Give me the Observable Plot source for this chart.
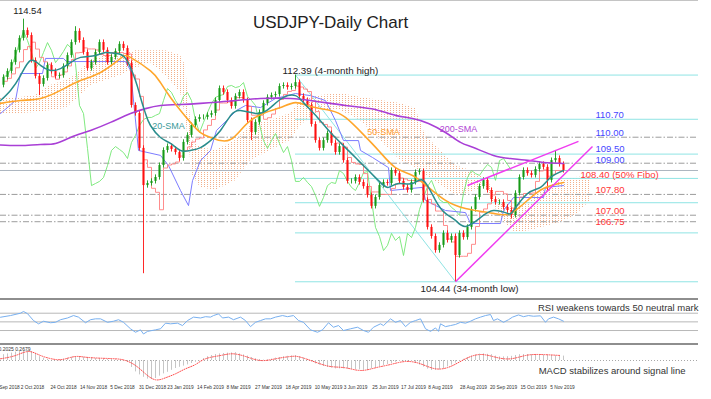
<!DOCTYPE html>
<html><head><meta charset="utf-8">
<script src="https://cdn.jsdelivr.net/npm/d3@7"></script>
<script src="https://cdn.jsdelivr.net/npm/@observablehq/plot@0.6"></script>
<style>
body{margin:0;background:#fff;font-family:Arial,"Liberation Sans",sans-serif;}
#wrap{position:relative;width:711px;height:399px;overflow:hidden;background:#fff}
#wrap > div{position:absolute;left:0}
.sep{height:2px;width:698px;background:#8e8e8e}
</style></head><body>
<div id="wrap">
  <div id="main" style="top:0"></div>
  <div style="top:0;height:1px;width:698px;background:#c4c4c4"></div>
  <div class="sep" style="top:298px"></div>
  <div id="rsi" style="top:300px"></div>
  <div class="sep" style="top:343px"></div>
  <div id="macd" style="top:345px"></div>
</div>
<script>
// ---------------- DATA ----------------
// daily USDJPY candles (one candle ~ every two sessions), closes
const closes = [112.30,112.53,112.87,113.34,113.80,114.10,113.91,112.95,112.34,112.03,
112.26,112.76,112.53,112.34,112.37,112.72,113.14,113.64,114.07,113.72,
113.26,112.64,112.87,113.26,113.64,113.34,112.87,113.07,113.30,113.57,
113.41,112.83,111.22,110.91,109.57,108.14,108.22,108.30,108.45,108.91,
109.49,109.64,109.53,109.41,109.18,109.80,110.07,110.45,110.68,110.76,
110.76,110.84,110.91,111.41,111.87,111.72,111.41,111.18,111.57,111.72,
111.41,110.64,110.18,110.57,110.95,111.30,111.53,111.60,111.64,111.95,
111.99,111.91,111.95,112.10,111.57,111.41,111.22,110.49,109.87,109.57,
109.87,110.14,109.76,109.41,109.64,109.10,108.30,108.30,108.45,108.26,
108.10,107.76,107.34,107.68,108.14,108.26,108.22,108.72,108.60,108.30,
108.07,107.95,108.26,108.64,108.68,107.57,106.53,106.18,105.64,105.84,
106.30,106.03,106.18,105.45,106.30,106.14,106.53,107.22,107.68,108.10,
108.34,107.95,107.60,107.49,107.49,107.30,107.18,106.99,107.84,108.45,
108.72,108.60,108.53,108.76,108.95,108.84,108.34,109.10,109.18,108.95,
108.72];
const firstOpen = 112.00;
const wickSize = 0.1;
const spikeHighBar = [5, 18, 73, 138];
const spikeHighVal = [114.54, 114.25, 112.39, 109.49];
const spikeLowBar = [9, 35, 62, 113, 127, 136];
const spikeLowVal = [111.60, 104.75, 109.87, 104.44, 106.85, 107.95];

const sma20Bar = [-0.75,1.75,4.25,6.75,9.25,11.75,14.25,16.75,19.25,23,25.5,28,30.5,33,34.25,35.5,36.75,39.25,41.75,44.25,46.75,49.25,51.75,54.25,56.75,59.25,63.5,66.75,70,73,75,78.5,81.75,85.5,88.75,93.75,96.25,98.75,102.25,105,108,110.5,113,115.5,119.25,122.5,126,127.5,131,134.25,136.75,140];
const sma20Val = [111.41,111.80,112.37,112.95,112.76,112.57,112.64,112.87,113.07,113.14,113.26,113.22,113.03,112.18,111.53,110.91,110.45,109.99,109.76,109.49,109.49,109.60,109.87,110.26,110.83,111.03,110.91,111.14,111.53,111.60,111.33,110.76,110.18,109.60,109.10,108.33,108.07,108.22,108.22,108.33,107.57,107.07,106.80,106.57,106.91,107.18,107.07,107.18,107.83,108.07,108.45,108.72];

const sma50Bar = [-0.75,4.25,9.25,14.25,19.25,24.25,29.25,31.75,36.75,39.25,41.75,44.25,46.75,49.25,51.75,54.25,56.75,59.25,61.75,65.5,69.25,73,76.75,81.75,85.5,89.75,93.75,98,102.25,106.25,110.5,115.5,122.5,126.75,131,135,140];
const sma50Val = [111.30,111.41,111.49,111.80,112.18,112.49,113.03,113.07,112.55,112.10,111.53,111.03,110.57,110.18,109.99,109.87,109.91,110.26,110.64,110.95,111.14,111.33,111.18,111.03,110.76,110.14,109.49,108.83,108.53,108.07,107.57,107.26,107.07,107.07,107.57,108.03,108.26];

const sma200Bar = [-0.75,4.25,9.25,13,16.75,21.75,26.75,31.75,35.5,39.25,44.25,49.25,56.75,64.25,71.75,76.75,81.75,85.5,89.75,93.75,98,102.25,106.25,110.5,114.25,117.5,122.5,126.75,131,135,140];
const sma200Val = [109.70,109.68,109.72,109.76,109.99,110.26,110.57,110.91,111.10,111.22,111.26,111.30,111.39,111.49,111.49,111.41,111.30,111.22,111.14,111.03,110.84,110.72,110.53,110.18,109.80,109.60,109.30,109.18,109.11,109.03,108.99];

const kijunBar = [-0.75,3,4.25,9.75,10.5,15,15.75,30.5,31.75,33.75,39.25,41.25,44.25,46.25,47.25,49.25,51.75,53.25,55.75,58.25,60.5,64.25,68,73,76.75,80.5,83,85,88.75,89.25,92.25,96.25,96.75,104.75,105.5,110.5,115.5,116.75,124.25,125,127.5,135,135.5,140];
const kijunVal = [110.91,111.41,112.45,112.45,113.03,113.03,112.91,112.91,112.57,109.49,109.30,108.91,107.95,107.37,108.33,109.10,109.49,110.26,110.64,111.03,111.22,111.14,111.49,111.68,111.60,111.41,110.64,109.87,109.87,109.49,109.22,108.83,107.95,108.07,107.57,107.18,107.10,106.68,106.68,107.18,107.68,107.68,108.07,108.14];

const chikouShift = 13; // 26 sessions

const cloudBar = [-0.75,4.25,8,11.75,15.5,18,21.75,25.5,29.25,33,36.75,40.5,44.25,45.5,47.25,49.25,53,58,61.75,66.75,71.75,74.25,79.25,84.25,89.25,94.25,99.25,103,105.5,109.25,113,116.75,120.5,124.25,128,131.75,135.5,139.25,143,146.75];
const cloudTop = [111.53,111.53,111.60,111.99,112.18,112.37,112.95,113.14,113.14,113.33,113.33,113.33,113.14,112.76,109.87,109.60,109.49,109.87,110.45,110.64,110.91,111.41,111.60,111.68,111.53,111.41,111.30,111.10,110.07,109.49,108.91,108.72,108.41,107.57,107.26,107.57,108.03,108.34,108.45,108.49];
const cloudBot = [110.91,110.91,110.95,111.03,111.10,111.41,111.99,112.18,112.37,112.64,112.87,112.37,111.72,110.83,108.53,108.07,107.95,108.33,109.10,109.49,109.87,110.45,111.03,111.03,110.64,109.87,109.10,108.83,108.53,108.14,107.76,107.87,108.10,106.87,106.33,106.41,106.57,106.72,106.99,107.57];

const keyLevels = [110.00, 109.00, 107.80, 107.00, 106.75];
const fiboLevels = [112.39, 110.69, 109.35, 108.415, 107.48, 106.32, 104.44];
const swingHighBar = 73, swingHighPrice = 112.39;
const swingLowBar = 113, swingLowPrice = 104.44;

const levelLabels = ["110.70","110.00","109.50","109.00","108.40 (50% Fibo)","107.80","107.00","106.75"];
const levelValues = [110.70, 110.00, 109.50, 109.00, 108.40, 107.80, 107.00, 106.75];

const wedgeUpperBar = [116, 143.75], wedgeUpperVal = [108.14, 109.84];
const wedgeLowerBar = [113, 147.25], wedgeLowerVal = [104.44, 109.64];

const smaLabelText = ["20-SMA", "50-SMA", "200-SMA"];
const smaLabelBar = [41.25, 95, 113.75];
const smaLabelPrice = [110.41, 110.18, 110.33];

const rsiBar = [-0.75,1.75,4.25,5,6,7.5,8.75,10,11.75,13,14.25,16,17.5,18.75,20.5,21.75,23,24.25,26,27.5,28.75,30,31.75,33,34.25,35,36,38,39.25,40.5,41.75,43.5,44.75,46,47.5,49.25,50.5,51.75,52.5,53.75,54.75,56.25,57.5,59.25,60.5,61.75,63,64.25,65.5,66.75,68,69.75,71,72.5,73.75,75,76.75,78.5,79.75,81.25,82.5,83.75,85,86.75,88.5,90,91.25,92.5,94.25,95,96.75,98,99.25,100.5,101.75,103,104.25,105.5,106.75,108,108.75,109.25,110.5,111.75,113,114.25,115.5,116.75,118,119.25,120.5,121.75,122.5,123.5,125,126.25,127.25,128.75,130,131.25,132.5,134.25,135.5,136.25,137.5,138.75,140];
const rsiVal = [60.7,64.6,70,74,69,53,45.5,51.5,48,49,55,59,64.6,61,48,55,57,57,49,51.5,55,49,34,26,31.6,22,28,31.6,34,47,45.5,47,41.5,53,61,59,62,61,64.6,68.5,59,61,55,61,53,39,49,53,57,57,61,64.6,62,64.6,53,49,31.6,26,31.6,48,37.6,41.5,30,34,37.6,30,26,37.6,45.5,41.5,57,49,53,39,49,53,57,34,28,36,28,45.5,39,41.5,44,49,47,51.5,57,61,64.6,67,53,57,49,55,61,66,62,64.6,63,64,49,57,61,57,51.5];
const rsiLevels = [30, 50, 70];

const macdHist = [0.29,0.33,0.37,0.42,0.45,0.47,0.50,0.44,0.33,0.19,
0.12,0.05,0.00,0.00,0.02,0.07,0.11,0.16,0.20,0.19,
0.17,0.15,0.13,0.10,0.09,0.07,0.06,0.05,0.03,0.01,
-0.04,-0.09,-0.35,-0.57,-0.72,-0.84,-0.93,-0.95,-0.90,-0.78,
-0.67,-0.59,-0.49,-0.40,-0.34,-0.28,-0.22,-0.15,-0.09,-0.02,
0.10,0.19,0.25,0.30,0.33,0.35,0.37,0.38,0.39,0.33,
0.28,0.22,0.15,0.09,0.05,0.02,0.03,0.07,0.12,0.15,
0.19,0.21,0.23,0.25,0.19,0.13,0.05,-0.06,-0.17,-0.23,
-0.30,-0.35,-0.38,-0.42,-0.42,-0.42,-0.43,-0.44,-0.45,-0.47,
-0.49,-0.49,-0.42,-0.37,-0.32,-0.26,-0.20,-0.15,-0.09,-0.05,
-0.02,-0.02,-0.06,-0.15,-0.23,-0.33,-0.43,-0.50,-0.49,-0.47,
-0.40,-0.32,-0.23,-0.13,-0.03,0.06,0.14,0.22,0.27,0.32,
0.33,0.31,0.29,0.22,0.18,0.18,0.19,0.21,0.25,0.29,
0.30,0.30,0.30,0.29,0.29,0.27,0.26,0.25,0.24,0.22,
0.22];
const signalBar = [-0.75,3,6.25,9.25,13,15.5,18,20.5,24.25,28,30.5,33,35.5,38,40.5,43,45.5,48,50.5,54.25,57.25,60.5,64.25,68,71.75,74.25,78,81.75,85.5,89.25,93,96.75,100.5,104.25,108,111.75,115.5,119.25,123,126.75,130.5,134.25,139.25];
const signalVal = [0.085,0.25,0.45,0.25,0.05,0.085,0.2,0.165,0.115,0.085,0,-0.25,-0.665,-0.965,-0.865,-0.665,-0.415,-0.2,0.085,0.25,0.335,0.2,0,0.085,0.2,0.165,-0.085,-0.3,-0.365,-0.5,-0.365,-0.2,-0.05,-0.165,-0.415,-0.3,0.085,0.3,0.165,0.085,0.25,0.3,0.25];

const dateBars = [1.5,7.25,15,22.5,29.75,37.25,44.25,51.75,58.75,66.25,73.75,81.25,88,95.5,102.5,109.25,117.5,125,132.5,139.75];
const dateLabels = ["Sep 2018","2 Oct 2018","24 Oct 2018","14 Nov 2018","5 Dec 2018","31 Dec 2018","23 Jan 2019","14 Feb 2019","8 Mar 2019","27 Mar 2019","18 Apr 2019","10 May 2019","3 Jun 2019","25 Jun 2019","17 Jul 2019","8 Aug 2019","28 Aug 2019","20 Sep 2019","15 Oct 2019","5 Nov 2019"];

const titleText = "USDJPY-Daily Chart";
const rsiNote = "RSI weakens towards 50 neutral mark";
const macdNote = "MACD stabilizes around signal line";
const macdValues = "0.2025 0.2679";

// ---------------- BUILD ----------------
const W = 711, RIGHT = 698;
const XDOM = [-0.75, 173.75];
const TOP_PRICE = 115.258, PX_PER_YEN = 26, MAIN_H = 298;
const FONT = "Arial, 'Liberation Sans', sans-serif";
const GREEN = "#169a16", RED = "#ff1010";

const candles = closes.map((c, i) => {
  const o = i === 0 ? firstOpen : closes[i - 1];
  let h = Math.max(o, c) + wickSize, l = Math.min(o, c) - wickSize;
  const hi = spikeHighBar.indexOf(i); if (hi >= 0) h = spikeHighVal[hi];
  const li = spikeLowBar.indexOf(i); if (li >= 0) l = spikeLowVal[li];
  return {i, o, c, h, l, col: c >= o ? GREEN : RED};
});
const tenkan = candles.map((d, i) => {
  const w = candles.slice(Math.max(0, i - 4), i + 1);
  return {i, v: (d3.max(w, e => e.h) + d3.min(w, e => e.l)) / 2};
});
const chikou = closes.slice(chikouShift).map((c, k) => ({i: k, v: c}));
const zip = (xs, ys) => xs.map((x, k) => ({x, y: ys[k]}));
const cloud = cloudBar.map((b, k) => ({b, a: cloudTop[k], z: cloudBot[k]}));
const bid = closes[closes.length - 1];

// label nudges (pixels) – crowded labels sit on their level, the others just above it
const nudge = {"109.50": -1, "109.00": -3, "106.75": 0};
const lbl = levelLabels.map((t, k) => ({t, v: levelValues[k],
  col: levelValues[k] >= 108.9 ? "#4646ff" : "#ff3535",
  x: t.length > 6 ? 144.25 : 148,
  n: t in nudge ? nudge[t] : -4}));
const nudgeGroups = [...new Set(lbl.map(d => d.n))];

const mainSvg = Plot.plot({
  width: W, height: MAIN_H, marginLeft: 0, marginRight: W - RIGHT, marginTop: 0, marginBottom: 0,
  x: {domain: XDOM, axis: null},
  y: {domain: [TOP_PRICE - MAIN_H / PX_PER_YEN, TOP_PRICE], axis: null},
  color: {type: "identity"},
  style: {fontFamily: FONT, background: "transparent"},
  marks: [
    Plot.areaY(cloud, {x: "b", y1: "a", y2: "z", fill: "url(#kumo)"}),
    Plot.ruleY(keyLevels, {stroke: "#9c9c9c", strokeDasharray: "6,2,1.5,2"}),
    Plot.ruleY([bid], {stroke: "#adb6c0"}),
    Plot.ruleY(fiboLevels, {x1: swingHighBar, x2: XDOM[1], stroke: "#8fe4e4"}),
    Plot.link([{x1: swingHighBar, y1: swingHighPrice, x2: swingLowBar, y2: swingLowPrice}],
      {x1: "x1", y1: "y1", x2: "x2", y2: "y2", stroke: "#8fe4e4"}),
    Plot.line(chikou, {x: "i", y: "v", stroke: "#72e672", strokeWidth: 0.9}),
    Plot.line(zip(kijunBar, kijunVal), {x: "x", y: "y", stroke: "#7c7cff", strokeWidth: 1}),
    Plot.line(tenkan, {x: "i", y: "v", stroke: "#ff8080", strokeWidth: 0.9, curve: "step-after"}),
    Plot.ruleX(candles, {x: "i", y1: "l", y2: "h", stroke: "col", strokeWidth: 0.9}),
    Plot.ruleX(candles, {x: "i", y1: "o", y2: "c", stroke: "col", strokeWidth: 2.1}),
    Plot.line(zip(sma200Bar, sma200Val), {x: "x", y: "y", stroke: "#a93fd6", strokeWidth: 1.6, curve: "natural"}),
    Plot.line(zip(sma50Bar, sma50Val), {x: "x", y: "y", stroke: "#ffa62b", strokeWidth: 1.6, curve: "natural"}),
    Plot.line(zip(sma20Bar, sma20Val), {x: "x", y: "y", stroke: "#2a8d8d", strokeWidth: 1.5, curve: "natural"}),
    Plot.link([{x1: wedgeUpperBar[0], y1: wedgeUpperVal[0], x2: wedgeUpperBar[1], y2: wedgeUpperVal[1]},
               {x1: wedgeLowerBar[0], y1: wedgeLowerVal[0], x2: wedgeLowerBar[1], y2: wedgeLowerVal[1]}],
      {x1: "x1", y1: "y1", x2: "x2", y2: "y2", stroke: "#f03cf0", strokeWidth: 1.5}),
    ...nudgeGroups.map(n => Plot.text(lbl.filter(d => d.n === n), {x: "x", y: "v", text: "t", fill: "col", dy: n, textAnchor: "start", lineAnchor: "middle", fontSize: 9.5})),
    Plot.text([smaLabelText[0]], {x: smaLabelBar[0], y: smaLabelPrice[0], fill: "#3a9a9a", fontSize: 9, lineAnchor: "middle"}),
    Plot.text([smaLabelText[1]], {x: smaLabelBar[1], y: smaLabelPrice[1], fill: "#ffa030", fontSize: 9, lineAnchor: "middle"}),
    Plot.text([smaLabelText[2]], {x: smaLabelBar[2], y: smaLabelPrice[2], fill: "#b044d4", fontSize: 9, lineAnchor: "middle"}),
    Plot.text(["114.54"], {x: spikeHighBar[0], y: spikeHighVal[0], dx: 4, dy: -8, fill: "#222", fontSize: 9.5, lineAnchor: "middle"}),
    Plot.text(["112.39 (4-month high)"], {x: swingHighBar, y: swingHighPrice, dx: -13, dy: -4, textAnchor: "start", fill: "#222", fontSize: 9.8, lineAnchor: "middle"}),
    Plot.text(["104.44 (34-month low)"], {x: swingLowBar, y: swingLowPrice, dx: -35, dy: 7, textAnchor: "start", fill: "#222", fontSize: 9.8, lineAnchor: "middle"}),
    Plot.text([titleText], {frameAnchor: "top", dx: -19, dy: 22, fill: "#222", fontSize: 17, lineAnchor: "middle"})
  ]
});
d3.select(mainSvg).insert("defs", ":first-child")
  .append("pattern").attr("id", "kumo").attr("width", 3).attr("height", 2).attr("patternUnits", "userSpaceOnUse")
  .append("rect").attr("width", 1).attr("height", 1).attr("fill", "#f2b08a");
document.getElementById("main").append(mainSvg);

const rsiSvg = Plot.plot({
  width: W, height: 43, marginLeft: 0, marginRight: W - RIGHT, marginTop: 0, marginBottom: 0,
  x: {domain: XDOM, axis: null},
  y: {domain: [0, 99.4], axis: null},
  style: {fontFamily: FONT, background: "transparent"},
  marks: [
    Plot.ruleY(rsiLevels, {stroke: "#b8b8b8"}),
    Plot.line(zip(rsiBar, rsiVal), {x: "x", y: "y", stroke: "#78b0f0", strokeWidth: 1}),
    Plot.text([rsiNote], {frameAnchor: "top-right", dy: 7, textAnchor: "end", lineAnchor: "middle", fill: "#333", fontSize: 9.5})
  ]
});
document.getElementById("rsi").append(rsiSvg);

const macdSvg = Plot.plot({
  width: W, height: 54, marginLeft: 0, marginRight: W - RIGHT, marginTop: 0, marginBottom: 16,
  x: {domain: XDOM, axis: null},
  y: {domain: [-1.15, 0.75], axis: null},
  style: {fontFamily: FONT, background: "transparent"},
  marks: [
    Plot.ruleY([0], {stroke: "#a8a8a8", strokeDasharray: "1,2"}),
    Plot.ruleX(macdHist.map((v, i) => ({i, v})), {x: "i", y1: 0, y2: "v", stroke: "#c6c6c6", strokeWidth: 1}),
    Plot.line(zip(signalBar, signalVal), {x: "x", y: "y", stroke: "#ff4a4a", strokeWidth: 1, strokeDasharray: "1,1.4", curve: "natural"}),
    Plot.text([macdValues], {frameAnchor: "top-left", dx: -2, dy: 4, textAnchor: "start", lineAnchor: "middle", fill: "#333", fontSize: 5}),
    Plot.text([macdNote], {frameAnchor: "top-right", dx: -13, dy: 25, textAnchor: "end", lineAnchor: "middle", fill: "#333", fontSize: 9.5}),
    Plot.axisX({ticks: dateBars, tickFormat: d => dateLabels[dateBars.indexOf(d)], tickSize: 0, tickPadding: 2.5, fontSize: 4.8, label: null, fill: "#333"})
  ]
});
document.getElementById("macd").append(macdSvg);
</script>
</body></html>
